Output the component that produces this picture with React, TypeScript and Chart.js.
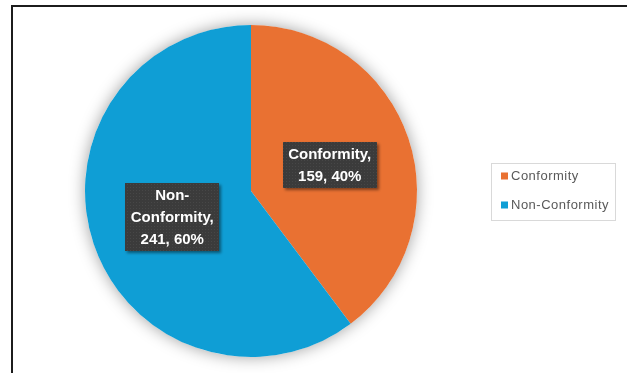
import React, { useEffect, useRef } from "react";
import { Chart, registerables } from "chart.js";

Chart.register(...registerables);

const categories = ["Conformity", "Non-Conformity"];
const counts = [159, 241];
const percents = ["40%", "60%"];
const colors = ["#E97132", "#0F9ED5"];

const W = 627;
const H = 373;

function wrap(ctx: CanvasRenderingContext2D, text: string, maxW: number): string[] {
  const tokens: string[] = [];
  text.split(" ").forEach((w, i, arr) => {
    const parts = w.split(/(?<=-)/);
    parts.forEach((p, j) => tokens.push(p + (j === parts.length - 1 && i < arr.length - 1 ? " " : "")));
  });
  const lines: string[] = [];
  let cur = "";
  for (const t of tokens) {
    const test = cur + t;
    if (cur && ctx.measureText(test.trim()).width > maxW) {
      lines.push(cur.trim());
      cur = t;
    } else cur = test;
  }
  if (cur.trim()) lines.push(cur.trim());
  return lines;
}

const decorPlugin = {
  id: "decor",
  beforeDraw(chart: any) {
    const ctx = chart.ctx;
    ctx.save();
    ctx.fillStyle = "#ffffff";
    ctx.fillRect(0, 0, W, H);
    ctx.fillStyle = "#1c1c1c";
    ctx.fillRect(11, 5, W - 11, 2);
    ctx.fillRect(11, 5, 2, H - 5);
    ctx.restore();
  },
  beforeDatasetsDraw(chart: any) {
    const meta = chart.getDatasetMeta(0);
    const arc = meta.data[0];
    if (!arc) return;
    const ctx = chart.ctx;
    ctx.save();
    ctx.beginPath();
    ctx.arc(arc.x, arc.y, arc.outerRadius, 0, Math.PI * 2);
    ctx.fillStyle = "#ffffff";
    ctx.shadowColor = "rgba(0,0,0,0.38)";
    ctx.shadowBlur = 16;
    ctx.fill();
    ctx.restore();
  },
  afterDatasetsDraw(chart: any) {
    const ctx: CanvasRenderingContext2D = chart.ctx;
    const meta = chart.getDatasetMeta(0);
    const pc = document.createElement("canvas");
    pc.width = 3;
    pc.height = 3;
    const p = pc.getContext("2d")!;
    p.fillStyle = "#3b3b3b";
    p.fillRect(0, 0, 3, 3);
    p.fillStyle = "#474747";
    p.fillRect(1, 1, 1, 1);
    const pattern = ctx.createPattern(pc, "repeat")!;

    meta.data.forEach((el: any, i: number) => {
      const pt = el.getCenterPoint();
      ctx.save();
      ctx.font = "bold 15px 'Liberation Sans', Arial, sans-serif";
      const text = `${categories[i]}, ${counts[i]}, ${percents[i]}`;
      const lines = wrap(ctx, text, 86);
      const maxW = Math.max(...lines.map((l) => ctx.measureText(l).width));
      const lh = 22;
      const bw = Math.round(maxW + 11);
      const bh = lines.length * lh + 2;
      const bx = Math.round(pt.x - bw / 2);
      const by = Math.round(pt.y - bh / 2);
      ctx.shadowColor = "rgba(0,0,0,0.45)";
      ctx.shadowBlur = 3;
      ctx.shadowOffsetX = 2;
      ctx.shadowOffsetY = 2;
      ctx.fillStyle = pattern;
      ctx.fillRect(bx, by, bw, bh);
      ctx.shadowColor = "transparent";
      ctx.fillStyle = "#ffffff";
      ctx.textAlign = "center";
      ctx.textBaseline = "middle";
      lines.forEach((l, k) => {
        ctx.fillText(l, pt.x, by + 1 + lh * k + lh / 2 + 1);
      });
      ctx.restore();
    });

    ctx.save();
    ctx.strokeStyle = "#d9d9d9";
    ctx.lineWidth = 1;
    ctx.strokeRect(491.5, 163.5, 124, 57);
    ctx.font = "13px 'Liberation Sans', Arial, sans-serif";
    (ctx as any).letterSpacing = "0.5px";
    ctx.textBaseline = "middle";
    ctx.textAlign = "left";
    categories.forEach((c, i) => {
      const cy = 176 + i * 29;
      ctx.fillStyle = colors[i];
      ctx.fillRect(501, cy - 3.5, 7, 7);
      ctx.fillStyle = "#595959";
      ctx.fillText(c, 511, cy);
    });
    ctx.restore();
  },
};

export default function App() {
  const ref = useRef<HTMLCanvasElement>(null);
  useEffect(() => {
    if (!ref.current) return;
    const chart = new Chart(ref.current, {
      type: "pie",
      data: {
        labels: categories,
        datasets: [
          {
            data: counts,
            backgroundColor: colors,
            borderWidth: 0,
          },
        ],
      },
      options: {
        animation: false,
        responsive: false,
        events: [],
        layout: { padding: { left: 85, top: 25, right: 210, bottom: 16 } },
        plugins: {
          legend: { display: false },
          tooltip: { enabled: false },
        },
      },
      plugins: [decorPlugin],
    });
    return () => chart.destroy();
  }, []);
  return (
    <div style={{ position: "absolute", left: 0, top: 0, width: W, height: H }}>
      <canvas ref={ref} width={W} height={H} style={{ display: "block" }} />
    </div>
  );
}
